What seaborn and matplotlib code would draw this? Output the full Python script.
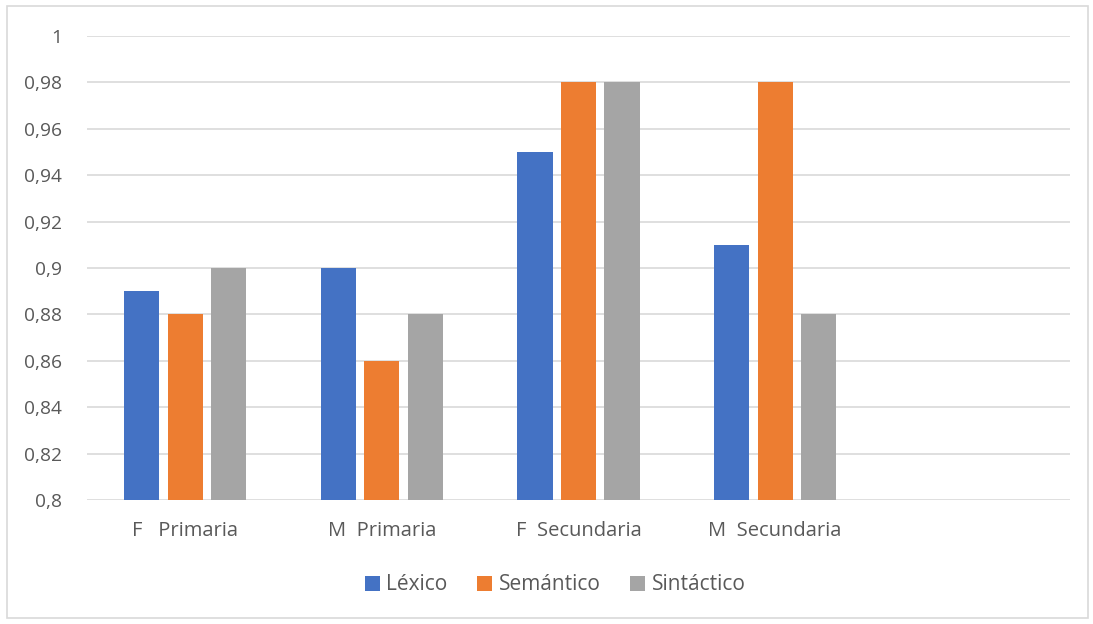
import matplotlib
matplotlib.use("Agg")
import matplotlib.pyplot as plt
import seaborn as sns
import pandas as pd
from matplotlib.patches import Rectangle, Patch
from matplotlib.ticker import FuncFormatter

categories = ["F   Primaria", "M  Primaria", "F  Secundaria", "M  Secundaria"]
series = ["Léxico", "Semántico", "Sintáctico"]
lexico = [0.89, 0.90, 0.95, 0.91]
semantico = [0.88, 0.86, 0.98, 0.98]
sintactico = [0.90, 0.88, 0.98, 0.88]
colors = ["#4472C4", "#ED7D31", "#A5A5A5"]
yticks = [0.80, 0.82, 0.84, 0.86, 0.88, 0.90, 0.92, 0.94, 0.96, 0.98, 1.00]

rows = []
for name, vals in zip(series, [lexico, semantico, sintactico]):
    for c, v in zip(categories, vals):
        rows.append({"cat": c, "serie": name, "val": v})
df = pd.DataFrame(rows)

sns.set_style("white")
plt.rcParams["font.family"] = ["Open Sans", "DejaVu Sans"]

fig = plt.figure(figsize=(10.93, 6.24), dpi=100)
ax = fig.add_axes([87/1093, 1-500/624, (1070-87)/1093, (500-36)/624])

sns.barplot(data=df, x="cat", y="val", hue="serie", order=categories,
            hue_order=series, palette=colors, width=0.664, gap=0.195,
            saturation=1, ax=ax, legend=False, zorder=3, linewidth=0,
            edgecolor="none")

ax.set_xlim(-0.5, 4.5)
ax.set_ylim(0.8, 1.0)
ax.set_yticks(yticks)
ax.yaxis.set_major_formatter(FuncFormatter(
    lambda v, p: ("1" if abs(v-1) < 1e-9 else ("%g" % round(v, 2)).replace(".", ","))))
ax.grid(axis="y", color="#D9D9D9", linewidth=1.2, zorder=0)
ax.set_axisbelow(True)
for s in ax.spines.values():
    s.set_visible(False)
ax.tick_params(axis="both", length=0, labelcolor="#595959")
ax.tick_params(axis="y", pad=18, labelsize=13.8)
ax.tick_params(axis="x", pad=15, labelsize=14.5)
ax.set_xlabel("")
ax.set_ylabel("")

handles = [Patch(facecolor=c, edgecolor="none") for c in colors]
fig.legend(handles, series, loc="center", bbox_to_anchor=(555/1093, 1-585/624),
           ncol=3, frameon=False, fontsize=15, labelcolor="#595959",
           handlelength=0.75, handleheight=0.75, handletextpad=0.3, columnspacing=1.4)

fig.patches.append(Rectangle((7/1093, 6/624), 1081/1093, 612/624, transform=fig.transFigure,
                             fill=False, edgecolor="#D9D9D9", linewidth=1.2))

fig.savefig("out.png", dpi=100)
